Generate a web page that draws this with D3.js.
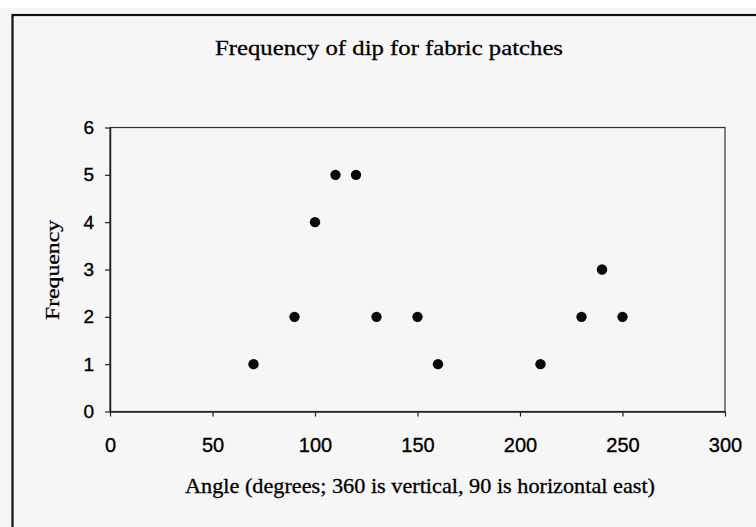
<!DOCTYPE html>
<html>
<head>
<meta charset="utf-8">
<script src="https://cdn.jsdelivr.net/npm/d3@7"></script>
<style>
  body { margin: 0; background: #f6f6f6; }
  svg { display: block; }
</style>
</head>
<body>
<svg width="756" height="527"></svg>
<script>
var angles = [70, 90, 100, 110, 120, 130, 150, 160, 210, 230, 240, 250];
var counts = [1, 2, 4, 5, 5, 2, 2, 1, 1, 2, 3, 2];
var xTicks = [0, 50, 100, 150, 200, 250, 300];
var yTicks = [0, 1, 2, 3, 4, 5, 6];

var svg = d3.select("svg"),
    width = +svg.attr("width"),
    height = +svg.attr("height");

var plot = { left: 110, right: 725, top: 127.5, bottom: 411.5 };

// scanned page background and outer frame
svg.append("rect").attr("width", width).attr("height", height).attr("fill", "#f6f6f6");
svg.append("rect").attr("width", width).attr("height", 8).attr("fill", "#ffffff");
svg.append("rect")
    .attr("x", 12.5).attr("y", 15)
    .attr("width", 800).attr("height", 600)
    .attr("fill", "none")
    .attr("stroke", "#111")
    .attr("stroke-width", 2.2);

var x = d3.scaleLinear().domain([0, 300]).range([plot.left, plot.right]);
var y = d3.scaleLinear().domain([0, 6]).range([plot.bottom, plot.top]);

// plot box
svg.append("rect")
    .attr("x", plot.left).attr("y", plot.top)
    .attr("width", plot.right - plot.left)
    .attr("height", plot.bottom - plot.top)
    .attr("fill", "none")
    .attr("stroke", "#333")
    .attr("stroke-width", 1.2);

var sans = "'Liberation Sans', Arial, sans-serif";
var serif = "'Liberation Serif', 'Times New Roman', serif";

var xAxis = svg.append("g")
    .attr("transform", "translate(0," + plot.bottom + ")")
    .call(d3.axisBottom(x).tickValues(xTicks).tickFormat(d3.format("d"))
        .tickSize(5).tickSizeOuter(0));
xAxis.select(".domain").attr("stroke", "#222").attr("stroke-width", 1.5);
xAxis.selectAll(".tick line").attr("stroke", "#222").attr("stroke-width", 1.2);
xAxis.selectAll(".tick text")
    .attr("y", 40).attr("dy", 0)
    .attr("fill", "#000")
    .attr("stroke", "#000").attr("stroke-width", 0.35)
    .style("font-family", sans)
    .style("font-size", "20px");

var yAxis = svg.append("g")
    .attr("transform", "translate(" + plot.left + ",0)")
    .call(d3.axisLeft(y).tickValues(yTicks).tickFormat(d3.format("d"))
        .tickSize(5).tickSizeOuter(0).tickPadding(11));
yAxis.select(".domain").attr("stroke", "#222").attr("stroke-width", 1.5);
yAxis.selectAll(".tick line").attr("stroke", "#222").attr("stroke-width", 1.2);
yAxis.selectAll(".tick text")
    .attr("fill", "#000")
    .attr("stroke", "#000").attr("stroke-width", 0.35)
    .style("font-family", sans)
    .style("font-size", "19px");

// points
svg.selectAll(".dot")
    .data(angles)
    .enter().append("circle")
    .attr("class", "dot")
    .attr("cx", function(d) { return x(d); })
    .attr("cy", function(d, i) { return y(counts[i]); })
    .attr("r", 5.2)
    .attr("fill", "#0a0a0a");

svg.append("text")
    .attr("x", 215).attr("y", 55)
    .attr("textLength", 348).attr("lengthAdjust", "spacingAndGlyphs")
    .attr("fill", "#000")
    .attr("stroke", "#000").attr("stroke-width", 0.3)
    .style("font-family", serif)
    .style("font-size", "21px")
    .text("Frequency of dip for fabric patches");

svg.append("text")
    .attr("x", 185).attr("y", 493)
    .attr("textLength", 470).attr("lengthAdjust", "spacingAndGlyphs")
    .attr("fill", "#000")
    .attr("stroke", "#000").attr("stroke-width", 0.3)
    .style("font-family", serif)
    .style("font-size", "21px")
    .text("Angle (degrees; 360 is vertical, 90 is horizontal east)");

svg.append("text")
    .attr("transform", "translate(59,320) rotate(-90)")
    .attr("textLength", 100).attr("lengthAdjust", "spacingAndGlyphs")
    .attr("fill", "#000")
    .attr("stroke", "#000").attr("stroke-width", 0.3)
    .style("font-family", serif)
    .style("font-size", "19px")
    .text("Frequency");
</script>
</body>
</html>
